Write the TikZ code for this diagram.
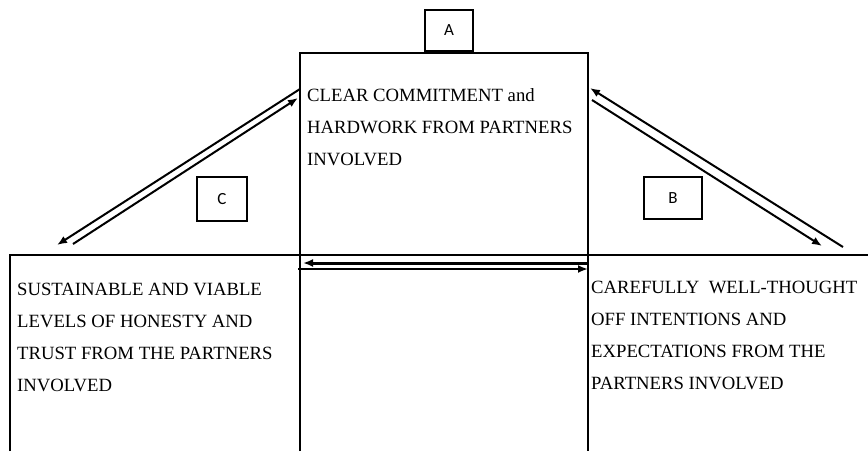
\documentclass[tikz,border=0pt]{standalone}
\usepackage{fontspec}
\setmainfont{Liberation Serif}
\newfontfamily\tagfont{Carlito}
\usetikzlibrary{arrows.meta}

\begin{document}
\begin{tikzpicture}[x=1pt,y=-1pt,
  box/.style={draw,line width=1.3pt},
  tag/.style={draw,line width=1.3pt,minimum width=48pt,minimum height=41pt,
    inner sep=0pt,font=\tagfont\fontsize{17}{17}\selectfont},
  txt/.style={anchor=base west,inner sep=0pt,align=left,
    font=\fontsize{18.7}{32}\selectfont},
  link/.style={line width=2pt,-{Latex[length=10pt,width=8pt]}}]
\useasboundingbox (0,0) rectangle (868,451);
% frames, cut by the page edge
\draw[box] (300,451) |- (588,53) -- (588,451);
\draw[box] (10,451) |- (868,255);
% letter boxes
\node[tag] (a) at (449,30.5) {A};
\node[tag,minimum width=50pt,minimum height=44pt] (c) at (222,199) {C};
\node[tag,minimum width=58pt,minimum height=42pt] (b) at (673,198) {B};
% texts (anchored on the last line)
\node[txt] (commit) at (307,165) {CLEAR COMMITMENT and\\HARDWORK FROM PARTNERS\\INVOLVED};
\node[txt] (honesty) at (17,391) {SUSTAINABLE AND VIABLE\\LEVELS OF HONESTY AND\\TRUST FROM THE PARTNERS\\INVOLVED};
\node[txt] (intent) at (591,389) {CAREFULLY\ \ WELL-THOUGHT\\OFF INTENTIONS AND\\EXPECTATIONS FROM THE\\PARTNERS INVOLVED};
% end points of the links
\coordinate (cl1) at (300,89);
\coordinate (cl2) at (57,245);
\coordinate (cl3) at (73,244);
\coordinate (cl4) at (298,98);
\coordinate (br1) at (843,247);
\coordinate (br2) at (590,88);
\coordinate (br3) at (592,100);
\coordinate (br4) at (822,246);
\coordinate (mid1) at (588,263);
\coordinate (mid2) at (303,263);
\coordinate (mid3) at (298,269);
\coordinate (mid4) at (588,269);
% links
\draw[link] (cl1) -- (cl2);
\draw[link] (cl3) -- (cl4);
\draw[link] (br1) -- (br2);
\draw[link] (br3) -- (br4);
\draw[link,line width=3pt] (mid1) -- (mid2);
\draw[link] (mid3) -- (mid4);
\end{tikzpicture}
\end{document}
